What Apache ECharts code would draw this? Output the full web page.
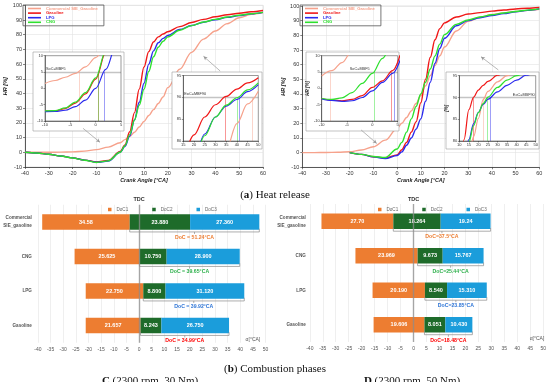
<!DOCTYPE html>
<html><head><meta charset="utf-8">
<script src="https://cdn.jsdelivr.net/npm/echarts@6/dist/echarts.min.js"></script>
<style>html,body{margin:0;padding:0;background:#fff}#c{width:550px;height:382px}</style>
</head><body><div id="c"></div>
<script>
// ---------- Heat release data ----------
const fuelNames = ['Commercial SIE_Gasoline','Gasoline','LPG','CNG'];
const fuelColors = ['#F6A28C','#F01818','#2B2BEE','#2EE02E'];

// C (2300 rpm, 30 Nm) main curves
const angleMain = [-40,-35,-30,-25,-20,-15,-10,-5,0,2,4,6,8,10,12,14,16,18,20,25,30,35,40,45,50,55,60];
const hrC_comm  = [0,0,0,0.1,0.3,0.8,1.8,3.5,6.5,8.6,10.8,13.6,17.2,21,25,29,33.2,37.6,44,56.5,68,77,82.5,87.5,91.5,93.8,95];
const hrC_gas   = [0,-0.5,-1.3,-2.5,-3.8,-5.3,-6.6,-5.5,0.5,5,14,27,43,58,68.5,75,78.5,80.5,82,85.5,88.3,90.4,92.2,93.6,94.6,95.6,96.5];
const hrC_lpg   = [0,-0.5,-1.3,-2.5,-3.8,-5.3,-6.8,-6,0,4,11,22,34,47,60,69,74.5,77.5,79.5,83.5,86.3,88.5,90.2,91.8,93,94.2,95.2];
const hrC_cng   = [0,-0.5,-1.3,-2.5,-3.9,-5.4,-6.9,-5.8,0,4.5,12,22,32,43,55,65,71.5,75.5,78.5,83,86.2,88.6,90.4,92,93.2,94.3,95.2];

// D (2300 rpm, 50 Nm) main curves
const angleD = [-20,-15,-10,-5,0,2,4,6,8,10,12,14,16,18,20,25,30,35,40,45,50,55,60];
const hrD_comm  = [0,0,0.1,0.3,0.6,1.8,4,8.5,16.5,20,24,28.5,33.5,39,45.5,52.5,59.5,66,72,83,89.5,92.3,94.2,95.3,96.3,97,97.7];
const hrD_gas   = [0,-1.2,-2.8,-3.7,-1.5,2,7,14,21,34,50,65,77,84.5,88.5,92.5,94.5,95.5,96.5,97.3,98,98.5,99];
const hrD_lpg   = [0,-1.2,-2.9,-4,-2,0.5,5,10,16,23,35,48,61,71,78,86.5,90,92,93.5,94.8,96,97,98];
const hrD_cng   = [0,-1.2,-2.6,-3.3,2.5,7,14,23,31.5,40,48,57,66,74,80.5,87.5,90.5,92.5,94,95.2,96.3,97.2,98];

// insets: start of combustion (MBF5)
const angleInA = [-10,-8,-6,-4,-2,0,2,4,6];
const insCA_comm = [1.5,2.4,3.4,4.6,6.6,9.4,13,17,21];
const insCA_gas  = [-7,-6.9,-6.2,-4.5,-1.7,2.8,11,19.5,27];
const insCA_lpg  = [-7.1,-7.05,-6.7,-5.6,-3.6,0,5.8,13,21];
const insCA_cng  = [-6.9,-6.8,-6,-4.2,-1.3,3.2,11.5,20,28];
const socC = [-3.3,0.6,1.65,0.45];

const insDA_comm = [3.8,5.4,7.9,11.5,15,19,23,27,31];
const insDA_gas  = [-3.1,-3.6,-3.8,-3.4,-2.2,0.3,2.3,5.4,13];
const insDA_lpg  = [-3.2,-3.7,-4,-3.8,-2.8,-0.8,1.8,4.6,11];
const insDA_cng  = [-3.1,-3.4,-2.9,-1.3,1.5,4.6,9.2,14,20];
const socD = [-8.4,3.7,4.3,0.3];

// insets: end of combustion (MBF90)
const angleInCB = [15,20,25,30,35,40,45,50];
const insCB_comm = [60,64,68,72,78,84,88.5,91.4];
const insCB_gas  = [75,81.4,85.5,88.3,90.2,91.9,93.3,94.5];
const insCB_lpg  = [70,76,81.6,85.5,88,89.5,91.3,92.9];
const insCB_cng  = [70,76,81.2,85.5,88.2,89.9,91.7,93.3];
const eocC = [47.3,34.5,41.3,40.1];

const angleInDB = [10,12.5,15,17.5,20,22.5,25,30,35,40,45,50];
const insDB_comm = [68,72,76.5,81,85.2,89.5,91.4,93.6,95,96,96.8,97.4];
const insDB_gas  = [70,80.3,87.2,90.1,91.7,92.8,93.7,95.1,96,96.8,97.4,98];
const insDB_lpg  = [72,76,80.3,84,86.6,88.4,89.6,91.3,92.8,94,95.1,96];
const insDB_cng  = [72,76,79.7,83.5,86.5,88.6,90.1,92.3,94,95,95.8,96.5];
const eocD = [22.8,17.3,26.2,24.8];

// arrows (data space) [from, to]
const arrowsC = [[[-15.6,16.3],[-8.5,6.8]],[[42,55.3],[35,65.3]]];
const arrowsD = [[[-15.2,15.5],[-8.6,6.3]],[[42.7,56.4],[35.4,65.4]]];

// ---------- Combustion phases data ----------
const phaseCats = ['Commercial\nSIE_gasoline','CNG','LPG','Gasoline'];
const startC = [-38.3,-25.5,-21.1,-21.1];
const doc1C = [34.58,25.625,22.75,21.657];
const doc2C = [23.88,10.75,8.8,8.243];
const doc3C = [27.36,28.9,31.12,26.75];
const lab1C = ['34.58','25.625','22.750','21.657'];
const lab2C = ['23.880','10.750','8.800','8.243'];
const lab3C = ['27.360','28.900','31.120','26.750'];

const startD = [-35.5,-22.4,-15.8,-15.4];
const doc1D = [27.70,23.969,20.19,19.606];
const doc2D = [18.264,9.673,8.54,8.051];
const doc3D = [19.24,15.767,15.31,10.43];
const lab1D = ['27.70','23.969','20.190','19.606'];
const lab2D = ['18.264','9.673','8.540','8.051'];
const lab3D = ['19.24','15.767','15.310','10.430'];

const phaseAxisTicks = {min:-40, max:50, interval:5};
const docColors = ['#ED7D31','#2DB04B','#2E75D6','#FF0000'];
const barColors = ['#ED7D31','#1E6B2A','#1B9DDB'];

// ---------- build ----------
const FONT = 'Liberation Sans';
const zip = (xs, ys) => xs.map((x,i)=>[x, ys[i]]);

function mainX(gi){return {type:'value', gridIndex:gi, min:-40, max:60, interval:10,
  axisLine:{show:true,onZero:false,lineStyle:{color:'#333',width:0.8}}, axisTick:{show:true,length:2,lineStyle:{color:'#333',width:0.6}},
  axisLabel:{fontSize:5.5,color:'#333',margin:3,fontFamily:FONT}, splitLine:{show:true,lineStyle:{color:'#e2e2e2',width:0.6}},
  name:'Crank Angle [°CA]', nameLocation:'middle', nameGap:10, nameTextStyle:{fontSize:5.5,fontWeight:'bold',fontStyle:'italic',color:'#222',fontFamily:FONT}};}
function mainY(gi){return {type:'value', gridIndex:gi, min:-10, max:100, interval:10,
  axisLine:{show:true,onZero:false,lineStyle:{color:'#333',width:0.8}}, axisTick:{show:true,length:2,lineStyle:{color:'#333',width:0.6}},
  axisLabel:{fontSize:5.5,color:'#333',margin:3,fontFamily:FONT}, splitLine:{show:true,lineStyle:{color:'#e2e2e2',width:0.6}},
  name:'HR [%]', nameLocation:'middle', nameGap:13, nameTextStyle:{fontSize:5.5,fontWeight:'bold',fontStyle:'italic',color:'#222',fontFamily:FONT}};}
function insetAxis(gi, min, max, interval, name){const a = {type:'value', gridIndex:gi, min, max, interval, z:7,
  axisLine:{show:true,onZero:false,lineStyle:{color:'#333',width:0.6}}, axisTick:{show:true,length:1.5,lineStyle:{color:'#333',width:0.5}},
  axisLabel:{fontSize:4,color:'#333',margin:2,fontFamily:FONT}, splitLine:{show:false}};
  if(name){a.name=name;a.nameLocation='middle';a.nameGap=9;a.nameTextStyle={fontSize:4.5,fontWeight:'bold',fontStyle:'italic',color:'#222'};}
  return a;}

function line(name, color, data, gi, extra){
  return Object.assign({type:'line', name, xAxisIndex:gi, yAxisIndex:gi, data, smooth:0.35, smoothMonotone:'x',
    showSymbol:false, symbol:'none', lineStyle:{color, width:gi===0||gi===3?1.4:1.2}, itemStyle:{color}, animation:false, z: (gi===0||gi===3)?2:8}, extra||{});
}
function arrowMark(arrows){return {silent:true, symbol:['none','arrow'], symbolSize:[3,4], animation:false,
  lineStyle:{color:'#999',width:0.7,type:'solid'}, label:{show:false},
  data: arrows.map(a=>[{coord:a[0]},{coord:a[1]}])};}
function mbfMark(level, yMin, xs, i, text, pos){
  const data = [[{coord:[xs[i], yMin], lineStyle:{color:fuelColors[i],opacity:0.45,width:1,type:'solid'}},{coord:[xs[i], level]}]];
  if(text){data.unshift({yAxis:level, lineStyle:{color:'#c4c4c4',width:1.3,type:'solid'},
    label:{show:true, formatter:text, position:pos, fontSize:3.8, color:'#333', distance:1}});}
  return {silent:true, symbol:'none', animation:false, label:{show:false}, data};
}

const series = [];
function addChart(giMain, giA, giB, xMain, xCol, mainArr, insA, insB, xA, xB, soc, eoc, arrows, socPos, eocPos){
  mainArr.forEach((ys,i)=>{
    const xs = i===0 ? angleMain : xCol;
    series.push(line(fuelNames[i], fuelColors[i], zip(xs, ys), giMain, i===0?{markLine:arrowMark(arrows)}:{}));
  });
  insA.forEach((ys,i)=>series.push(line(fuelNames[i], fuelColors[i], zip(xA, ys), giA, {markLine:mbfMark(5,-10,soc,i,i===0?(socPos[0]):null,socPos[1])})));
  insB.forEach((ys,i)=>series.push(line(fuelNames[i], fuelColors[i], zip(xB, ys), giB, {markLine:mbfMark(90,80,eoc,i,i===0?(eocPos[0]):null,eocPos[1])})));
}
addChart(0,1,2,angleMain,angleMain,[hrC_comm,hrC_gas,hrC_lpg,hrC_cng],[insCA_comm,insCA_gas,insCA_lpg,insCA_cng],[insCB_comm,insCB_gas,insCB_lpg,insCB_cng],angleInA,angleInCB,socC,eocC,arrowsC,['SoC=MBF5','insideStartTop'],['EoC=MBF90','insideStartTop']);
addChart(3,4,5,angleMain,angleD,[hrD_comm,hrD_gas,hrD_lpg,hrD_cng],[insDA_comm,insDA_gas,insDA_lpg,insDA_cng],[insDB_comm,insDB_gas,insDB_lpg,insDB_cng],angleInA,angleInDB,socD,eocD,arrowsD,['SoC=MBF5','insideMiddleTop'],['EoC=MBF90','insideEndTop']);

// bars
function addBars(gi, stack, start, d1, d2, d3, l1, l2, l3, fmt){
  const lbl = arr => ({show:true, position:'inside', color:'#fff', fontSize:5.5, fontWeight:'bold', fontFamily:FONT, formatter:p=>arr[p.dataIndex]});
  const base = {type:'bar', xAxisIndex:gi, yAxisIndex:gi, stack, stackStrategy:'all', barWidth:15.5, animation:false};
  series.push(Object.assign({}, base, {name:'offset'+stack, data:start, itemStyle:{color:'rgba(0,0,0,0)'}, silent:true, label:{show:false}}));
  series.push(Object.assign({}, base, {name:'DoC1', data:d1, itemStyle:{color:barColors[0]}, label:lbl(l1)}));
  series.push(Object.assign({}, base, {name:'DoC2', data:d2, itemStyle:{color:barColors[1]}, label:lbl(l2)}));
  series.push(Object.assign({}, base, {name:'DoC3', data:d3, itemStyle:{color:barColors[2]}, label:lbl(l3),
    markLine:{silent:true, symbol:'none', animation:false, z:10, data:[{xAxis:0}], lineStyle:{color:'rgba(140,140,140,0.75)',width:1.4,type:'solid'},
      label:{show:true, position:'start', formatter:'TDC', fontSize:5.5, fontWeight:'bold', color:'#333', distance:2}}}));
  series.push({type:'custom', xAxisIndex:gi, yAxisIndex:gi, animation:false, silent:true, z:5,
    data: start.map((s,i)=>[s+d1[i], s+d1[i]+d2[i]+d3[i], i, +(d2[i]+d3[i]).toFixed(2)]),
    encode:{x:[0,1], y:2},
    renderItem:(params, api)=>{
      const i = api.value(2);
      const p1 = api.coord([api.value(0), i]), p2 = api.coord([api.value(1), i]);
      const y0 = p1[1] + 7.75, y1 = y0 + 2.2, mid = (p1[0]+p2[0])/2;
      return {type:'group', children:[
        {type:'polyline', shape:{points:[[p1[0],y0-1],[p1[0],y1],[p2[0],y1],[p2[0],y0-1]]}, style:{stroke:'#8a8a8a', fill:null, lineWidth:0.7}},
        {type:'line', shape:{x1:mid,y1:y1,x2:mid,y2:y1+2}, style:{stroke:'#8a8a8a', lineWidth:0.7}},
        {type:'text', x:mid, y:y1+5.5, style:{text:fmt(api.value(3)), fill:docColors[i], font:'bold 5.2px '+FONT, align:'center', verticalAlign:'middle'}}
      ]};
    }});
}
addBars(6,'C',startC,doc1C,doc2C,doc3C,lab1C,lab2C,lab3C,v=>'DoC = '+v+'°CA');
addBars(7,'D',startD,doc1D,doc2D,doc3D,lab1D,lab2D,lab3D,v=>'DoC='+v+'°CA');

function barX(gi, gap){return {type:'value', gridIndex:gi, min:phaseAxisTicks.min, max:phaseAxisTicks.max, interval:phaseAxisTicks.interval,
  axisLine:{show:false}, axisTick:{show:false}, axisLabel:{fontSize:5,color:'#555',margin:4,fontFamily:FONT},
  splitLine:{show:true,lineStyle:{color:'#e8e8e8',width:0.7}},
  name:'α[°CA]', nameLocation:'end', nameGap:gap, nameTextStyle:{fontSize:5,color:'#555',verticalAlign:'bottom',padding:[0,0,1,0]}};}
function barY(gi, m){return {type:'category', gridIndex:gi, data:phaseCats, inverse:true,
  axisLine:{show:false}, axisTick:{show:false}, axisLabel:{fontSize:4.6,color:'#555',fontWeight:'bold',margin:m,fontFamily:FONT,lineHeight:8}};}

const legendText = fuelNames.map((n,i)=>({name:n, textStyle:{color:fuelColors[i]}}));
const lineLegend = (left)=>({left, top:5, orient:'vertical', data:legendText, icon:'rect', itemWidth:13, itemHeight:1.6, itemGap:0.6,
  selectedMode:false, borderColor:'#555', borderWidth:0.8, padding:[1.5,6,1.5,5], textStyle:{fontSize:4.2,fontFamily:FONT,fontWeight:'bold'}, z:10});
const barLegend = (left)=>({left, top:207, orient:'horizontal', data:['DoC1','DoC2','DoC3'], icon:'rect', itemWidth:3.5, itemHeight:3.5, itemGap:24,
  selectedMode:false, padding:0, textStyle:{fontSize:4.6,color:'#666',fontFamily:FONT}});

const frames = [[33,52,91,79],[172,72,90,77],[306,52,93,79],[446,72,93,77]];

const option = {
  backgroundColor:'#fff', animation:false,
  title:[
    {text:'({b|a}) Heat release', left:'center', top:184.5, textStyle:{fontSize:11,fontWeight:'normal',color:'#111',fontFamily:'Liberation Serif',rich:{b:{fontSize:11,fontWeight:'bold',fontFamily:'Liberation Serif'}}}},
    {text:'({b|b}) Combustion phases', left:'center', top:358.5, textStyle:{fontSize:11,fontWeight:'normal',color:'#111',fontFamily:'Liberation Serif',rich:{b:{fontSize:11,fontWeight:'bold',fontFamily:'Liberation Serif'}}}},
    {text:'{b|C} (2300 rpm, 30 Nm)', left:145, textAlign:'center', top:370.5, textStyle:{fontSize:11,fontWeight:'normal',color:'#111',fontFamily:'Liberation Serif',rich:{b:{fontSize:11,fontWeight:'bold',fontFamily:'Liberation Serif'}}}},
    {text:'{b|D} (2300 rpm, 50 Nm)', left:407, textAlign:'center', top:370.5, textStyle:{fontSize:11,fontWeight:'normal',color:'#111',fontFamily:'Liberation Serif',rich:{b:{fontSize:11,fontWeight:'bold',fontFamily:'Liberation Serif'}}}}
  ],
  legend:[lineLegend(23), lineLegend(300), barLegend(108), barLegend(378)],
  graphic: frames.map(f=>({type:'rect', shape:{x:f[0],y:f[1],width:f[2],height:f[3]}, style:{fill:'#fff',stroke:'#9a9a9a',lineWidth:0.6}, z:5, silent:true})),
  grid:[
    {left:25, top:5.3, width:238, height:161.7, show:true, borderColor:'#d0d0d0', borderWidth:0.6},
    {left:45, top:55.7, width:76, height:65.3, show:true, borderColor:'#555', borderWidth:0.6, z:6},
    {left:183.3, top:75.5, width:75, height:65.5, show:true, borderColor:'#555', borderWidth:0.6, z:6},
    {left:302.3, top:6, width:237, height:161.3, show:true, borderColor:'#d0d0d0', borderWidth:0.6},
    {left:321.7, top:55.7, width:76, height:65.3, show:true, borderColor:'#555', borderWidth:0.6, z:6},
    {left:459.3, top:75.7, width:76.4, height:65.3, show:true, borderColor:'#555', borderWidth:0.6, z:6},
    {left:37.9, top:204.75, width:227.7, height:138},
    {left:309.8, top:204, width:233.4, height:138}
  ],
  xAxis:[mainX(0), insetAxis(1,-10,5,5), insetAxis(2,15,50,5), mainX(3), insetAxis(4,-10,5,5), insetAxis(5,10,50,5), barX(6,-20), barX(7,-13.5)],
  yAxis:[mainY(0), insetAxis(1,-10,10,5), insetAxis(2,80,95,5), mainY(3), insetAxis(4,-10,10,5,'HR [%]'), insetAxis(5,80,95,5,'[%]'), barY(6,6), barY(7,4)],
  series
};
const chart = echarts.init(document.getElementById('c'), null, {renderer:'canvas'});
chart.setOption(option);
</script></body></html>
